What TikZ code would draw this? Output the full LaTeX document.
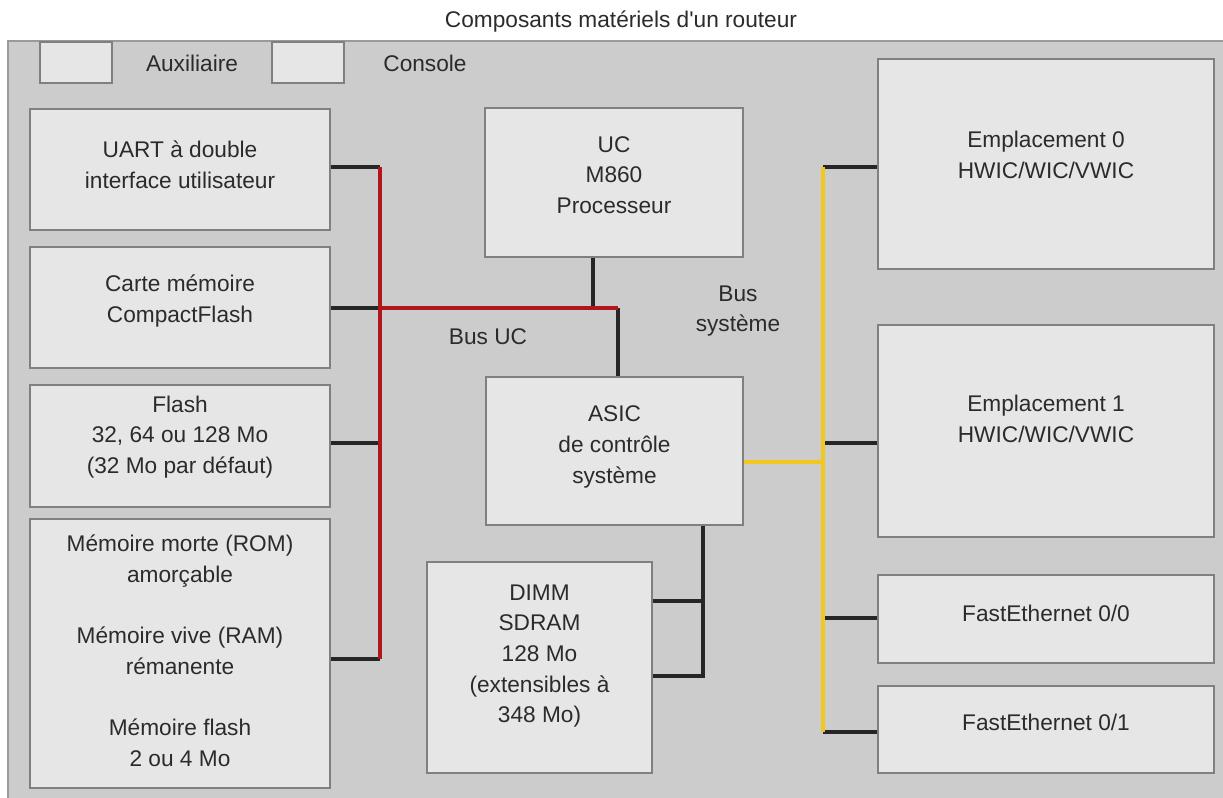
\documentclass[tikz,border=0pt]{standalone}
\usepackage{fontspec}
\setmainfont{Liberation Sans}
\usepackage{tikz}
\usetikzlibrary{calc}
\definecolor{caseGray}{HTML}{CCCCCC}
\definecolor{caseLine}{HTML}{9A9A9A}
\definecolor{partFill}{HTML}{E6E6E6}
\definecolor{partLine}{HTML}{808080}
\definecolor{busRed}{HTML}{B3151C}
\definecolor{busYellow}{HTML}{F2C81F}
\definecolor{inkText}{HTML}{2B2B2B}
\begin{document}
\begin{tikzpicture}[x=0.75pt, y=-0.75pt,
    part/.style={draw=partLine, fill=partFill, line width=1.5pt, inner sep=0pt},
    txt/.style={font=\fontsize{17}{23}\selectfont, text=inkText, align=center, inner sep=0pt},
    wire/.style={line width=2.6pt, black!85},
    ucbus/.style={line width=2.6pt, busRed},
    sysbus/.style={line width=2.6pt, busYellow}]
    \useasboundingbox (0,0) rectangle (1223,798);
    \draw[caseLine, fill=caseGray, line width=0.8pt] (8,41) rectangle (1240,815);
    \node[txt] (title) at (621,22) {Composants matériels d\textquotesingle un routeur};
    % ports
    \foreach \nm/\xa/\lx/\lab in {aux/40/192/Auxiliaire, con/272/425/Console}
      {\node[part, minimum width=54pt, minimum height=30.75pt] (\nm) at (\xa+36,62.5) {};
       \node[txt] (\nm-txt) at (\lx,63) {\lab};}
    % components
    \foreach \nm/\xa/\ya/\xb/\yb/\ty/\lab in {
        uart/30/109/330/230/165/{UART à double\\interface utilisateur},
        carte/30/247/330/368/301/{Carte mémoire\\CompactFlash},
        flash/30/385/330/507/437/{Flash\\32, 64 ou 128 Mo\\(32 Mo par défaut)},
        mem/30/519/330/788/651/{Mémoire morte (ROM)\\amorçable\\[23pt]Mémoire vive (RAM)\\rémanente\\[23pt]Mémoire flash\\2 ou 4 Mo},
        uc/485/108/743/257/175/{UC\\M860\\Processeur},
        asic/486/377/743/525/447/{ASIC\\de contrôle\\système},
        dimm/427/562/652/773/656/{DIMM\\SDRAM\\128 Mo\\(extensibles à\\348 Mo)},
        slot0/878/59/1214/269/155/{Emplacement 0\\HWIC/WIC/VWIC},
        slot1/878/325/1214/537/419/{Emplacement 1\\HWIC/WIC/VWIC},
        fe0/878/575/1214/663/613/{FastEthernet 0/0},
        fe1/878/686/1214/773/722/{FastEthernet 0/1}}
      {\node[part, minimum width={(\xb-\xa)*0.75pt}, minimum height={(\yb-\ya)*0.75pt}]
         (\nm) at ({(\xa+\xb)/2},{(\ya+\yb)/2}) {};
       \node[txt] (\nm-txt) at ({(\xa+\xb)/2},\ty) {\lab};}
    \node[txt] (ucbus-lbl) at (488,337) {Bus UC};
    \node[txt] (sysbus-lbl) at (738,311) {Bus\\système};
    % junctions
    \coordinate (rb1) at (380,167);
    \coordinate (rb2) at (380,308);
    \coordinate (rb3) at (380,443);
    \coordinate (rb4) at (380,659);
    \coordinate (cpu-j) at (593,308);
    \coordinate (asic-j) at (618,308);
    \coordinate (yb0) at (823,167);
    \coordinate (yb1) at (823,443);
    \coordinate (yb2) at (823,618);
    \coordinate (yb3) at (823,732);
    \coordinate (yb-a) at (823,462);
    \coordinate (dj1) at (703,601);
    \coordinate (dj2) at (703,676);
    % CPU bus
    \foreach \nm/\j in {uart/rb1, carte/rb2, flash/rb3, mem/rb4}
      \draw[wire] (\nm.east |- \j) -- (\j);
    \draw[wire] (uc.south -| cpu-j) -- (cpu-j);
    \draw[wire] (asic-j) -- (asic.north -| asic-j);
    \draw[ucbus] (rb1) -- (rb4);
    \draw[ucbus] (rb2) -- (asic-j);
    % system bus
    \foreach \nm/\j in {slot0/yb0, slot1/yb1, fe0/yb2, fe1/yb3}
      \draw[wire] (\j) -- (\nm.west |- \j);
    \draw[sysbus] (asic.east |- yb-a) -- (yb-a);
    \draw[sysbus] (yb0) -- (yb3);
    % memory
    \draw[wire] (asic.south -| dj2) -- (dj2) -- (dimm.east |- dj2);
    \draw[wire] (dj1) -- (dimm.east |- dj1);
\end{tikzpicture}
\end{document}
